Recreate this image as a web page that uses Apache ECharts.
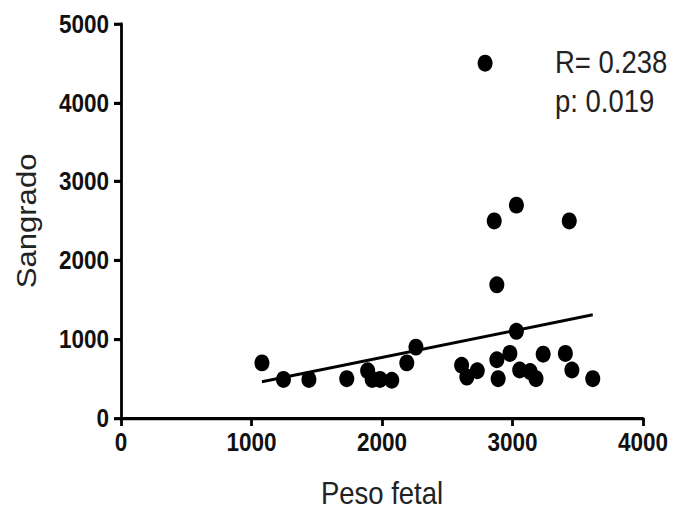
<!DOCTYPE html>
<html>
<head>
<meta charset="utf-8">
<script src="https://cdn.jsdelivr.net/npm/echarts@6/dist/echarts.min.js"></script>
<style>
html,body{margin:0;padding:0;background:#fff;overflow:hidden;}
#wrap{width:673px;height:514px;overflow:hidden;}
#c{width:673px;height:455px;transform:scaleY(1.13);transform-origin:0 0;}
</style>
</head>
<body>
<div id="wrap"><div id="c"></div></div>
<script>
var pesoFetal = [1080,1245,1440,1730,1890,1925,1985,2075,2190,2260,2610,2650,2730,2880,2890,2980,3030,3055,3135,3180,3235,3405,3455,3615,2790,2860,3030,3435,2880];
var sangrado  = [700,490,490,500,600,490,490,480,700,900,670,520,600,740,500,820,1100,610,590,500,810,820,610,500,4500,2500,2700,2500,1690];
var fitX = [1080, 3615];
var fitY = [460, 1310];
var xTicks = [0,1000,2000,3000,4000];
var yTicks = [0,1000,2000,3000,4000,5000];
var statsText = ['R= 0.238', 'p: 0.019'];

var pts = pesoFetal.map(function(v,i){return [v, sangrado[i]];});
var fit = fitX.map(function(v,i){return [v, fitY[i]];});
var FONT = '"Liberation Sans", Arial, sans-serif';

var chart = echarts.init(document.getElementById('c'), null, {renderer:'svg', width:673, height:455});
chart.setOption({
  animation:false,
  backgroundColor:'#fff',
  grid:{left:121,right:30,top:21,bottom:76.5},
  xAxis:{
    type:'value', min:xTicks[0], max:xTicks[xTicks.length-1], interval:1000,
    name:'Peso fetal', nameLocation:'middle', nameGap:52,
    nameTextStyle:{fontFamily:FONT,fontSize:27.5,color:'#222'},
    axisLine:{lineStyle:{color:'#000',width:2.8}},
    axisTick:{length:7,lineStyle:{color:'#000',width:2.8}},
    axisLabel:{fontFamily:FONT,fontSize:22.5,fontWeight:'bold',color:'#111',margin:10,
      formatter:function(v){return String(v);}},
    splitLine:{show:false}
  },
  yAxis:{
    type:'value', min:yTicks[0], max:yTicks[yTicks.length-1], interval:1000,
    name:'Sangrado', nameLocation:'middle', nameGap:81,
    nameTextStyle:{fontFamily:FONT,fontSize:27.5,color:'#222'},
    axisLine:{lineStyle:{color:'#000',width:2.8}},
    axisTick:{length:7,lineStyle:{color:'#000',width:2.8}},
    axisLabel:{fontFamily:FONT,fontSize:22.5,fontWeight:'bold',color:'#111',margin:12,
      formatter:function(v){return String(v);}},
    splitLine:{show:false}
  },
  series:[
    {type:'scatter', data:pts, symbol:'circle', symbolSize:15, itemStyle:{color:'#000',opacity:1}, z:3},
    {type:'line', data:fit, symbol:'none', lineStyle:{color:'#000',width:2.6}, z:2}
  ],
  graphic:[
    {type:'text', left:555, top:41, style:{text:statsText[0], font:'27.5px '+FONT, fill:'#222'}},
    {type:'text', left:555, top:75, style:{text:statsText[1], font:'27.5px '+FONT, fill:'#222'}}
  ]
});
</script>
</body>
</html>
